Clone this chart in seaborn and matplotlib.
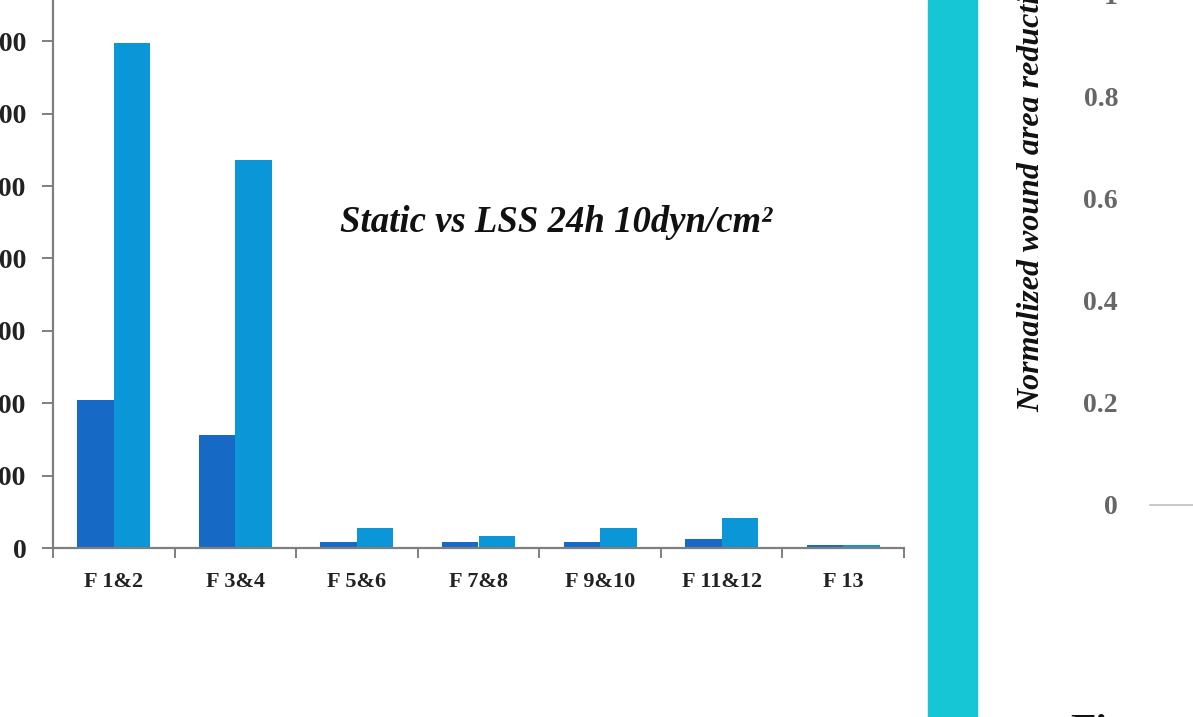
import matplotlib
matplotlib.use("Agg")
import matplotlib.pyplot as plt
import matplotlib.patches as mpatches
import seaborn as sns
import pandas as pd
import numpy as np

categories = ["F 1&2", "F 3&4", "F 5&6", "F 7&8", "F 9&10", "F 11&12", "F 13"]
static_vals = [204, 156, 8, 8, 8, 12, 4]
lss_vals = [698, 536, 27, 16, 27, 41, 4]
series_names = ["Static", "LSS 24h 10dyn/cm²"]
left_ticks = [0, 100, 200, 300, 400, 500, 600, 700]
right_ticks = [0, 0.2, 0.4, 0.6, 0.8, 1.0]
right_tick_labels = ["0", "0.2", "0.4", "0.6", "0.8", "1"]

df = pd.DataFrame({
    "cat": categories * 2,
    "val": static_vals + lss_vals,
    "series": [series_names[0]] * len(categories) + [series_names[1]] * len(categories),
})

sns.set_theme(style="white")
plt.rcParams["font.family"] = ["Liberation Serif", "DejaVu Serif"]

W, H = 1193, 717
fig = plt.figure(figsize=(W / 100, H / 100), dpi=100)
fig.patch.set_facecolor("white")

def fx(px):
    return px / W

def fy(py):
    return 1 - py / H

# Main bar axes
ax = fig.add_axes([fx(53), fy(548), fx(904) - fx(53), fy(-14) - fy(548)])
sns.barplot(data=df, x="cat", y="val", hue="series", order=categories,
            hue_order=series_names, palette=["#1769C6", "#0B97D7"],
            width=0.6, dodge=True, saturation=1, legend=False, ax=ax,
            linewidth=0)
ax.set_xlim(-0.5, len(categories) - 0.5)
ax.set_ylim(0, (548 + 14) / 0.724)
ax.set_xlabel("")
ax.set_ylabel("")
for s in ["top", "right"]:
    ax.spines[s].set_visible(False)
for s in ["left", "bottom"]:
    ax.spines[s].set_color("#7f7f7f")
    ax.spines[s].set_linewidth(1.6)
ax.set_yticks(left_ticks)
ax.set_yticklabels([str(t) for t in left_ticks], fontsize=20, fontweight="bold", color="#222222")
ax.tick_params(axis="y", which="major", direction="out", length=8, width=1.4,
               color="#7f7f7f", pad=11, left=True)
ax.set_xticks(range(len(categories)))
ax.set_xticklabels(categories, fontsize=16, fontweight="bold", color="#222222")
ax.tick_params(axis="x", which="major", length=0, pad=17)
ax.set_xticks(np.arange(-0.5, len(categories), 1.0), minor=True)
ax.tick_params(axis="x", which="minor", direction="out", length=7, width=1.4,
               color="#7f7f7f", bottom=True)
ax.patch.set_alpha(0)

fig.text(fx(556), fy(222), "Static vs LSS 24h 10dyn/cm²", ha="center", va="center",
         fontsize=26.5, fontstyle="italic", fontweight="bold", color="#111111")

# Teal vertical band
fig.patches.append(mpatches.Rectangle((fx(928), 0), fx(977) - fx(928), 1,
                                      transform=fig.transFigure, color="#17C6D4", zorder=0))

# Right partial chart
ax2 = fig.add_axes([fx(1150), fy(505), 0.2, fy(-6) - fy(505)])
ax2.set_ylim(0, 1.0)
ax2.set_xlim(0, 1)
for s in ["top", "right", "left"]:
    ax2.spines[s].set_visible(False)
ax2.spines["bottom"].set_color("#bfbfbf")
ax2.spines["bottom"].set_linewidth(1.2)
ax2.set_xticks([])
ax2.set_yticks(right_ticks)
ax2.set_yticklabels(right_tick_labels, fontsize=20, fontweight="bold", color="#666666")
ax2.tick_params(axis="y", length=0, pad=23)
ax2.patch.set_alpha(0)

fig.text(fx(1032), fy(412), "Normalized wound area reduction", rotation=90,
         ha="center", va="bottom", fontsize=23, fontstyle="italic", fontweight="bold",
         color="#111111")

fig.text(fx(1070), fy(714), "Figure", ha="left", va="top", fontsize=30,
         fontweight="bold", color="#111111")

fig.savefig("out.png", dpi=100, facecolor="white")
